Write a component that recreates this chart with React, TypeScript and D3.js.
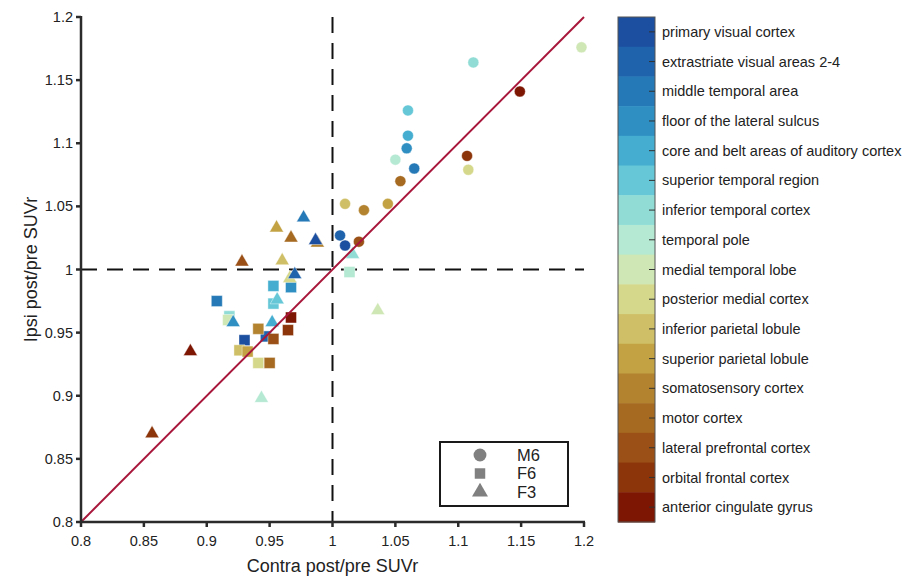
import * as d3 from "d3";

const width = 917;
const height = 582;
const plotLeft = 81;
const plotRight = 584;
const plotTop = 17;
const plotBottom = 522;

// region names, top of colour bar to bottom
const regions = [
	"primary visual cortex",
	"extrastriate visual areas 2-4",
	"middle temporal area",
	"floor of the lateral sulcus",
	"core and belt areas of auditory cortex",
	"superior temporal region",
	"inferior temporal cortex",
	"temporal pole",
	"medial temporal lobe",
	"posterior medial cortex",
	"inferior parietal lobule",
	"superior parietal lobule",
	"somatosensory cortex",
	"motor cortex",
	"lateral prefrontal cortex",
	"orbital frontal cortex",
	"anterior cingulate gyrus",
];

const regionColors = [
	"#1c4f9f", "#1f63ac", "#2479b6", "#2f8fc2", "#45aed0", "#66c8d7",
	"#91ddd6", "#b5e9d3", "#cfe7b4", "#d5d88a", "#cfbf66", "#c2a243",
	"#b3832f", "#a66a21", "#9a5016", "#8c350a", "#7d1603",
];

const subjects = ["M6", "F6", "F3"];

// values per region, same order as regions
const m6Contra = [1.010, 1.006, 1.065, 1.059, 1.060, 1.060, 1.112, 1.050, 1.198, 1.108, 1.010, 1.044, 1.025, 1.054, 1.021, 1.107, 1.149];
const m6Ipsi = [1.019, 1.027, 1.080, 1.096, 1.106, 1.126, 1.164, 1.087, 1.176, 1.079, 1.052, 1.052, 1.047, 1.070, 1.022, 1.090, 1.141];

const f6Contra = [0.930, 0.947, 0.908, 0.967, 0.953, 0.953, 0.918, 1.0135, 0.917, 0.941, 0.926, 0.9325, 0.941, 0.950, 0.953, 0.9646, 0.967];
const f6Ipsi = [0.944, 0.947, 0.975, 0.986, 0.987, 0.973, 0.963, 0.998, 0.960, 0.926, 0.936, 0.935, 0.953, 0.926, 0.945, 0.952, 0.962];

const f3Contra = [0.9865, 0.970, 0.977, 0.921, 0.952, 0.956, 1.016, 0.9435, 1.036, 0.966, 0.960, 0.9555, 0.988, 0.967, 0.928, 0.8565, 0.887];
const f3Ipsi = [1.023, 0.996, 1.041, 0.958, 0.958, 0.976, 1.012, 0.898, 0.9675, 0.993, 1.007, 1.033, 1.021, 1.025, 1.006, 0.870, 0.935];

const tickValues = [0.8, 0.85, 0.9, 0.95, 1, 1.05, 1.1, 1.15, 1.2];

const font = "Liberation Sans, Arial, sans-serif";

const App = () => {
	const xScale = d3.scaleLinear().domain([0.8, 1.2]).range([plotLeft, plotRight]);
	const yScale = d3.scaleLinear().domain([0.8, 1.2]).range([plotBottom, plotTop]);
	const colorBand = d3
		.scaleBand()
		.domain(regions)
		.range([plotTop, plotBottom])
		.padding(0);

	const circle = d3.symbol(d3.symbolCircle, 95)();
	const square = d3.symbol(d3.symbolSquare, 121)();
	const triangle = d3.symbol(d3.symbolTriangle, 85)();

	const points = (contra, ipsi, shape) =>
		contra.map((c, i) => ({ x: xScale(c), y: yScale(ipsi[i]), color: regionColors[i], shape, key: i }));

	const squares = points(f6Contra, f6Ipsi, square);
	const triangles = points(f3Contra, f3Ipsi, triangle).reverse();
	const circles = points(m6Contra, m6Ipsi, circle);

	const fmt = (d) => String(d);
	const axisColor = "#2b2b2b";

	const legendX = 440;
	const legendY = 442;
	const legendShapes = [
		d3.symbol(d3.symbolCircle, 130)(),
		d3.symbol(d3.symbolSquare, 110)(),
		d3.symbol(d3.symbolTriangle, 110)(),
	];

	return (
		<svg
			width={width}
			height={height}
			viewBox={`0 0 ${width} ${height}`}
			style={{ position: "absolute", left: 0, top: 0, background: "#fff" }}
			fontFamily={font}
		>
			{/* reference lines */}
			<line x1={xScale(1)} x2={xScale(1)} y1={plotTop} y2={plotBottom} stroke="#111" strokeWidth={2} strokeDasharray="16,10" />
			<line x1={plotLeft} x2={plotRight} y1={yScale(1)} y2={yScale(1)} stroke="#111" strokeWidth={2} strokeDasharray="16,10" />

			{/* markers */}
			{[...squares, ...triangles, ...circles].map((p, i) => (
				<path
					key={i}
					d={p.shape}
					transform={`translate(${p.x},${p.y})`}
					fill={p.color}
					stroke="#fff"
					strokeOpacity={0.6}
					strokeWidth={0.7}
				/>
			))}

			{/* identity line */}
			<line
				x1={xScale(0.8)}
				y1={yScale(0.8)}
				x2={xScale(1.2)}
				y2={yScale(1.2)}
				stroke="#a8173b"
				strokeWidth={2}
			/>

			{/* axes */}
			<g stroke={axisColor} strokeWidth={2.5}>
				<line x1={plotLeft} x2={plotLeft} y1={plotTop - 1} y2={plotBottom + 1} />
				<line x1={plotLeft - 1} x2={plotRight + 1} y1={plotBottom} y2={plotBottom} />
				{tickValues.map((t) => (
					<line key={"yt" + t} x1={plotLeft - 5} x2={plotLeft} y1={yScale(t)} y2={yScale(t)} />
				))}
				{tickValues.map((t) => (
					<line key={"xt" + t} x1={xScale(t)} x2={xScale(t)} y1={plotBottom} y2={plotBottom + 5} />
				))}
			</g>
			<g fontSize={14.5} fill="#222">
				{tickValues.map((t) => (
					<text key={"yl" + t} x={plotLeft - 8} y={yScale(t)} dy="0.35em" textAnchor="end">
						{fmt(t)}
					</text>
				))}
				{tickValues.map((t) => (
					<text key={"xl" + t} x={xScale(t)} y={plotBottom + 24} textAnchor="middle">
						{fmt(t)}
					</text>
				))}
			</g>
			<text x={(plotLeft + plotRight) / 2} y={572} textAnchor="middle" fontSize={18} fill="#222">
				Contra post/pre SUVr
			</text>
			<text
				transform={`translate(37,${(plotTop + plotBottom) / 2}) rotate(-90)`}
				textAnchor="middle"
				fontSize={18}
				fill="#222"
			>
				Ipsi post/pre SUVr
			</text>

			{/* subject legend */}
			<rect x={legendX} y={legendY} width={128} height={64} fill="#fff" stroke="#1a1a1a" strokeWidth={2} />
			{subjects.map((s, i) => (
				<g key={s} transform={`translate(0,${legendY + 13 + i * 18.5})`}>
					<path d={legendShapes[i]} transform={`translate(480,0)`} fill="#808080" />
					<text x={517} dy="0.35em" fontSize={16.5} fill="#222">
						{s}
					</text>
				</g>
			))}

			{/* colour bar */}
			<g>
				{regions.map((r, i) => (
					<rect key={r} x={618} y={colorBand(r)} width={37} height={colorBand.bandwidth() + 0.5} fill={regionColors[i]} />
				))}
				<rect x={618} y={plotTop} width={37} height={plotBottom - plotTop} fill="none" stroke="#555" strokeWidth={1} />
				{regions.map((r) => (
					<line
						key={"ct" + r}
						x1={649}
						x2={655}
						y1={colorBand(r) + colorBand.bandwidth() / 2}
						y2={colorBand(r) + colorBand.bandwidth() / 2}
						stroke="#333"
						strokeWidth={1}
					/>
				))}
				{regions.map((r) => (
					<text key={"cl" + r} x={662} y={colorBand(r) + colorBand.bandwidth() / 2} dy="0.35em" fontSize={14.5} fill="#222">
						{r}
					</text>
				))}
			</g>
		</svg>
	);
};

export default App;
